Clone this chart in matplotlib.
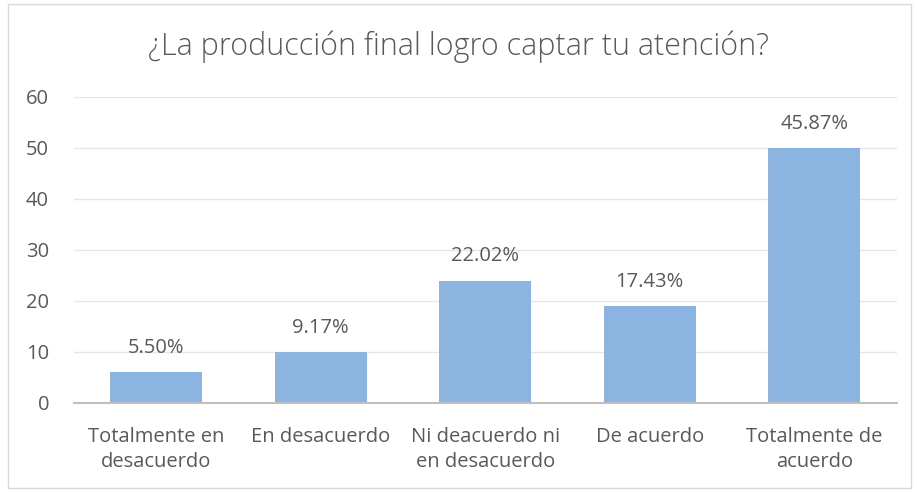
import matplotlib.pyplot as plt
import matplotlib.patches as mpatches

# %% Datos
categorias = ['Totalmente en\ndesacuerdo', 'En desacuerdo', 'Ni deacuerdo ni\nen desacuerdo',
              'De acuerdo', 'Totalmente de\nacuerdo']
conteos = [6, 10, 24, 19, 50]
etiquetas = ['5.50%', '9.17%', '22.02%', '17.43%', '45.87%']
ticks_y = [0, 10, 20, 30, 40, 50, 60]

plt.rcParams['font.family'] = ['Open Sans', 'DejaVu Sans']
gris = '#595959'

# %% Grafico
fig = plt.figure(figsize=(9.17, 4.92), dpi=100)
ax = fig.add_axes([0.0807, 0.181, 0.897, 0.622])

x = range(len(categorias))
ax.bar(x, conteos, width=0.56, color='#8CB4E0', zorder=2)
for xi, v, lab in zip(x, conteos, etiquetas):
    ax.text(xi, v + 2.8, lab, ha='center', va='bottom', fontsize=14.5, color=gris)

ax.set_xlim(-0.5, 4.5)
ax.set_ylim(0, 60)
ax.set_yticks(ticks_y)
ax.set_xticks(list(x))
ax.set_xticklabels(categorias, fontsize=14.5, color=gris, linespacing=1.35)
ax.tick_params(axis='y', labelsize=14.5, labelcolor=gris, length=0, pad=18)
ax.tick_params(axis='x', length=0, pad=17)
ax.grid(axis='y', color='#E6E6E6', linewidth=1, zorder=0)
for s in ['top', 'right', 'left']:
    ax.spines[s].set_visible(False)
ax.spines['bottom'].set_color('#BFBFBF')
ax.spines['bottom'].set_linewidth(1.5)

fig.text(0.5, 0.905, '¿La producción final logro captar tu atención?', ha='center', va='center',
         fontsize=22, color=gris, fontweight='light')

# marco
fig.patches.append(mpatches.Rectangle((0.009, 0.008), 0.985, 0.984, transform=fig.transFigure,
                                      fill=False, edgecolor='#D9D9D9', linewidth=1))

fig.savefig('out.png', dpi=100)
